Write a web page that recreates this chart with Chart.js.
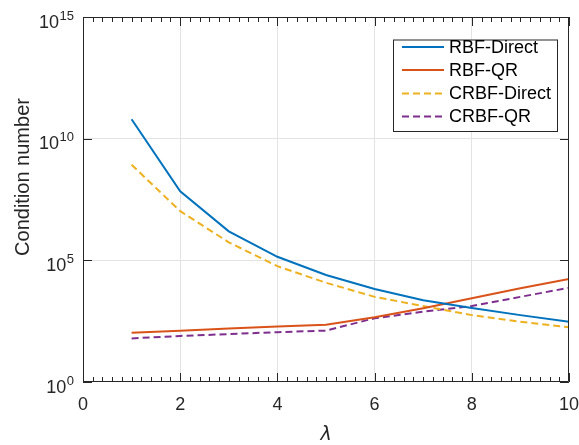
<!DOCTYPE html>
<html>
  <head>
    <meta charset="utf-8">
    <title>Condition number</title>
    <script src="https://cdn.jsdelivr.net/npm/chart.js"></script>
    <style>
      html, body { margin: 0; padding: 0; background: #fff; }
    </style>
  </head>
  <body>
    <canvas id="chart" width="579" height="445"></canvas>
    <script>
	var lambda = [1, 2, 3, 4, 5, 6, 7, 8, 9, 10];
	var rbfDirect = [6.3e10, 6.9e7, 1.55e6, 1.4e5, 2.5e4, 6600, 2300, 1100, 560, 300];
	var rbfQR = [105, 129, 158, 190, 224, 457, 1070, 2750, 7080, 17000];
	var crbfDirect = [8.5e8, 1.05e7, 5.5e5, 5.75e4, 1.2e4, 3160, 1320, 560, 300, 178];
	var crbfQR = [62, 78, 93, 112, 129, 417, 776, 1320, 3160, 7410];
	var xTicks = [0, 2, 4, 6, 8, 10];
	var yTicks = [1, 1e5, 1e10, 1e15];
	var yExp = ['0', '5', '10', '15'];

	var FONT = "'Liberation Sans', Arial, sans-serif";
	var AX = '#262626';

	function pts(ys) {
		return lambda.map(function(x, i) { return {x: x, y: ys[i]}; });
	}

	function series(label, ys, color, dash) {
		return {
			label: label,
			data: pts(ys),
			borderColor: color,
			backgroundColor: color,
			borderWidth: 2,
			borderDash: dash,
			pointRadius: 0,
			tension: 0,
			fill: false
		};
	}

	var gridColor = function(ctx) {
		var s = ctx.scale;
		var v = ctx.tick ? ctx.tick.value : null;
		if (v === s.min || v === s.max) return 'rgba(0,0,0,0)';
		return '#e3e3e3';
	};

	// axes box, inner ticks, tick labels, titles, legend
	var matlabAxes = {
		id: 'matlabAxes',
		afterDraw: function(chart) {
			var c = chart.ctx, a = chart.chartArea;
			var xs = chart.scales.x, ys = chart.scales.y;
			c.save();
			c.strokeStyle = AX;
			c.lineWidth = 1;
			c.beginPath();
			c.rect(a.left + 0.5, a.top + 0.5, a.right - a.left - 1, a.bottom - a.top - 1);
			c.stroke();

			c.beginPath();
			for (var t = 0; t <= 50; t++) {
				var v = t * 0.2;
				var px = Math.round(xs.getPixelForValue(v)) + 0.5;
				var len = (t % 10 === 0) ? 9 : 5;
				c.moveTo(px, a.bottom); c.lineTo(px, a.bottom - len);
				c.moveTo(px, a.top); c.lineTo(px, a.top + len);
			}
			yTicks.forEach(function(v) {
				var py = Math.round(ys.getPixelForValue(v)) + 0.5;
				c.moveTo(a.left, py); c.lineTo(a.left + 9, py);
				c.moveTo(a.right, py); c.lineTo(a.right - 9, py);
			});
			c.stroke();

			c.fillStyle = AX;
			c.textBaseline = 'alphabetic';

			// x tick labels
			c.font = '18px ' + FONT;
			c.textAlign = 'center';
			xTicks.forEach(function(v) {
				c.fillText(String(v), xs.getPixelForValue(v), a.bottom + 28);
			});

			// x title
			c.font = "italic 19px 'DejaVu Sans', sans-serif";
			c.fillText('λ', (a.left + a.right) / 2, a.bottom + 58);

			// y tick labels 10^n
			yTicks.forEach(function(v, i) {
				var py = ys.getPixelForValue(v);
				c.font = '13px ' + FONT;
				c.textAlign = 'right';
				var ew = c.measureText(yExp[i]).width;
				c.fillText(yExp[i], 74, py + 2.5);
				c.font = '18px ' + FONT;
				c.fillText('10', 74 - ew - 0.5, py + 10.5);
			});

			// y title
			c.save();
			c.translate(29, 177);
			c.rotate(-Math.PI / 2);
			c.font = '20px ' + FONT;
			c.textAlign = 'center';
			c.fillText('Condition number', 0, 0);
			c.restore();

			// legend
			var lx = 393, ly = 39.5, lw = 164, lh = 91.5;
			c.fillStyle = '#fff';
			c.fillRect(lx, ly, lw, lh);
			c.strokeStyle = AX;
			c.lineWidth = 1;
			c.strokeRect(lx + 0.5, ly + 0.5, lw, lh);
			var rows = [47, 70, 93.5, 116.5];
			chart.data.datasets.forEach(function(ds, i) {
				c.strokeStyle = ds.borderColor;
				c.lineWidth = 2;
				c.setLineDash(ds.borderDash || []);
				c.beginPath();
				c.moveTo(402, rows[i]); c.lineTo(444, rows[i]);
				c.stroke();
				c.setLineDash([]);
				c.fillStyle = '#000';
				c.font = '18px ' + FONT;
				c.textAlign = 'left';
				c.textBaseline = 'middle';
				c.fillText(ds.label, 449, rows[i] + 1);
			});
			c.restore();
		}
	};

	new Chart(document.getElementById('chart'), {
		type: 'line',
		data: {
			datasets: [
				series('RBF-Direct', rbfDirect, '#0072BD', []),
				series('RBF-QR', rbfQR, '#D95319', []),
				series('CRBF-Direct', crbfDirect, '#EDB120', [7, 4]),
				series('CRBF-QR', crbfQR, '#7E2F8E', [7, 4])
			]
		},
		options: {
			responsive: false,
			animation: false,
			layout: { padding: { left: 0, top: 17, right: 10, bottom: 0 } },
			plugins: { legend: { display: false }, tooltip: { enabled: false } },
			scales: {
				x: {
					type: 'linear',
					min: 0,
					max: 10,
					afterBuildTicks: function(s) { s.ticks = xTicks.map(function(v) { return {value: v}; }); },
					afterFit: function(s) { s.height = 63; },
					border: { display: false },
					grid: { color: gridColor, drawTicks: false, lineWidth: 1 },
					ticks: { display: false }
				},
				y: {
					type: 'logarithmic',
					min: 1,
					max: 1e15,
					afterBuildTicks: function(s) { s.ticks = yTicks.map(function(v) { return {value: v}; }); },
					afterFit: function(s) { s.width = 83; },
					border: { display: false },
					grid: { color: gridColor, drawTicks: false, lineWidth: 1 },
					ticks: { display: false }
				}
			}
		},
		plugins: [matlabAxes]
	});
    </script>
  </body>
</html>
